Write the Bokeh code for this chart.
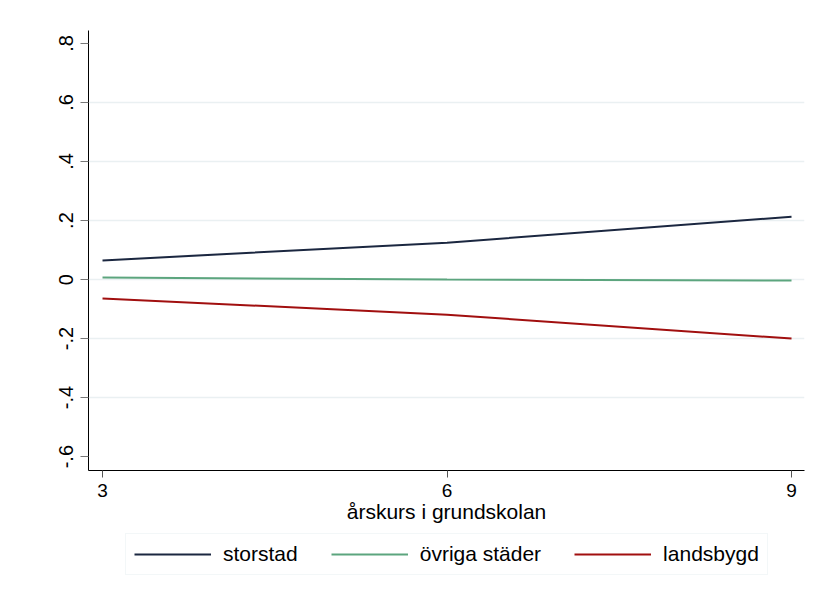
from bokeh.plotting import figure
from bokeh.models import Range1d, FixedTicker, Legend, LegendItem, ColumnDataSource
from bokeh.layouts import column
from bokeh.embed import file_html
from bokeh.resources import INLINE

grades = [3, 6, 9]
storstad = [0.065, 0.125, 0.213]
ovriga = [0.007, 0.0, -0.003]
landsbygd = [-0.064, -0.119, -0.200]

series_names = ["storstad", "övriga städer", "landsbygd"]
series_values = [storstad, ovriga, landsbygd]
series_colors = ["#1b2740", "#5ca57e", "#a10f0f"]

y_ticks = [-0.6, -0.4, -0.2, 0, 0.2, 0.4, 0.6, 0.8]
y_tick_labels = ["-.6", "-.4", "-.2", "0", ".2", ".4", ".6", ".8"]
grid_ticks = [-0.4, -0.2, 0, 0.2, 0.4, 0.6]
x_ticks = [3, 6, 9]

FONT = "Liberation Sans"

p = figure(width=816, height=530, output_backend="svg", toolbar_location=None,
           x_range=Range1d(2.878, 9.113), y_range=Range1d(-0.647, 0.844),
           min_border_left=88, min_border_right=12, min_border_top=30, min_border_bottom=60)
p.outline_line_color = None
p.background_fill_color = "white"
p.border_fill_color = "white"

for ys, c in zip(series_values, series_colors):
    src = ColumnDataSource(dict(x=grades, y=ys))
    p.line("x", "y", source=src, line_color=c, line_width=2)

p.xgrid.visible = False
p.ygrid.ticker = FixedTicker(ticks=grid_ticks)
p.ygrid.grid_line_color = "#eaf0f2"
p.ygrid.grid_line_width = 1.5

p.yaxis.ticker = FixedTicker(ticks=y_ticks)
p.yaxis.major_label_overrides = {t: l for t, l in zip(y_ticks, y_tick_labels)}
p.yaxis.major_label_orientation = "vertical"
p.yaxis.minor_tick_line_color = None
p.yaxis.major_tick_out = 8
p.yaxis.major_tick_in = 0
p.yaxis.major_tick_line_color = "#777777"
p.yaxis.axis_line_color = "black"
p.yaxis.major_label_text_font = FONT
p.yaxis.major_label_text_font_size = "20px"
p.yaxis.major_label_text_color = "black"
p.yaxis.major_label_standoff = 7

p.xaxis.ticker = FixedTicker(ticks=x_ticks)
p.xaxis.minor_tick_line_color = None
p.xaxis.major_tick_out = 7
p.xaxis.major_tick_in = 0
p.xaxis.major_tick_line_color = "#555555"
p.xaxis.axis_line_color = "black"
p.xaxis.major_label_text_font = FONT
p.xaxis.major_label_text_font_size = "19px"
p.xaxis.major_label_text_color = "black"
p.xaxis.major_label_standoff = 6
p.xaxis.axis_label = "årskurs i grundskolan"
p.xaxis.axis_label_text_font = FONT
p.xaxis.axis_label_text_font_size = "21px"
p.xaxis.axis_label_text_font_style = "normal"
p.xaxis.axis_label_text_color = "black"
p.xaxis.axis_label_standoff = 0

# legend-only panel below the plot (its frame is aligned with the main frame)
lg = figure(width=816, height=69, output_backend="svg", toolbar_location=None,
            x_range=Range1d(100, 101), y_range=Range1d(100, 101),
            min_border_left=0, min_border_right=0, min_border_top=0, min_border_bottom=0)
lg.axis.visible = False
lg.grid.visible = False
lg.outline_line_color = None
lg.background_fill_color = "white"
lg.border_fill_color = "white"
lg_renderers = []
for ys, c in zip(series_values, series_colors):
    src = ColumnDataSource(dict(x=grades, y=ys))
    lg_renderers.append(lg.line("x", "y", source=src, line_color=c, line_width=2))

legend = Legend(items=[LegendItem(label=n, renderers=[r]) for n, r in zip(series_names, lg_renderers)],
                orientation="horizontal", location=(37, 24))
legend.label_text_font = FONT
legend.label_text_font_size = "21px"
legend.label_text_color = "black"
legend.glyph_width = 77
legend.glyph_height = 20
legend.spacing = 33
legend.label_standoff = 12
legend.padding = 8
legend.margin = 0
legend.border_line_color = "#e8eff1"
legend.border_line_width = 1.5
legend.background_fill_alpha = 1
lg.add_layout(legend, "center")

layout = column(p, lg, spacing=0)
open("out.html", "w").write(file_html(layout, INLINE))
